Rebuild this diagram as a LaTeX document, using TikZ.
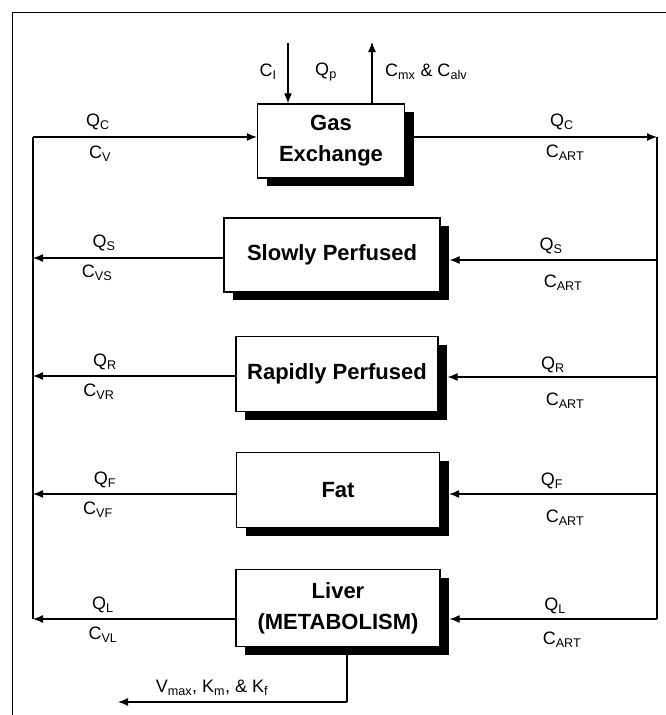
\documentclass[tikz,border=0pt]{standalone}
\usepackage{fontspec}
\setmainfont{Liberation Sans}
\usetikzlibrary{arrows.meta,shadows}

\tikzset{
  compartment/.style={rectangle, draw, line width=1.2pt, fill=white, align=center,
    font=\fontsize{22}{31}\selectfont\bfseries,
    drop shadow={shadow xshift=9pt, shadow yshift=-8pt, fill=black, opacity=1}},
  flow/.style={line width=1.2pt, -{Latex[length=10pt,width=8pt]}},
  pipe/.style={line width=1.2pt},
  lbl/.style={font=\fontsize{18}{21}\selectfont, inner sep=0pt},
}

\begin{document}
\begin{tikzpicture}[x=1pt, y=-1pt]
    \useasboundingbox (0,0) rectangle (666,715);
    % Frame
    \draw[line width=1pt] (12,715) -- (12,12) -- (666,12);

    % Compartments
    \node (gas) [compartment, minimum width=147pt, minimum height=74pt] at (331,141) {Gas\\Exchange};
    \node (slow) [compartment, minimum width=216pt, minimum height=74pt] at (332,255) {Slowly Perfused};
    \node (rapid) [compartment, minimum width=202pt, minimum height=75pt] at (337,374) {Rapidly Perfused};
    \node (fat) [compartment, minimum width=203pt, minimum height=75pt] at (338,490) {Fat};
    \node (liver) [compartment, minimum width=204pt, minimum height=77pt] at (338,608) {Liver\\(METABOLISM)};

    % Venous and arterial lines
    \coordinate (vC) at (33,137);
    \coordinate (vS) at (33,258);
    \coordinate (vR) at (33,376);
    \coordinate (vF) at (33,494);
    \coordinate (vL) at (33,619);
    \coordinate (aC) at (657,137);
    \coordinate (aS) at (657,260);
    \coordinate (aR) at (657,377);
    \coordinate (aF) at (657,494);
    \coordinate (aL) at (657,619);

    \draw[pipe] (vL) -- (vC);
    \draw[flow] (vC) -- (vC -| gas.west);
    \draw[flow] (vS -| slow.west) -- (vS);
    \draw[flow] (vR -| rapid.west) -- (vR);
    \draw[flow] (vF -| fat.west) -- (vF);
    \draw[flow] (vL -| liver.west) -- (vL);

    \draw[flow] (aC -| gas.east) ++(9,0) -- (aC);
    \draw[pipe] (aC) -- (aL);
    \draw[flow] (aS) -- ([xshift=9pt]aS -| slow.east);
    \draw[flow] (aR) -- ([xshift=9pt]aR -| rapid.east);
    \draw[flow] (aF) -- ([xshift=9pt]aF -| fat.east);
    \draw[flow] (aL) -- ([xshift=9pt]aL -| liver.east);

    % Breathing
    \coordinate (inhale) at (288,43);
    \coordinate (exhale) at (372,42);
    \draw[flow] (inhale) -- (inhale |- gas.north);
    \draw[flow] (exhale |- gas.north) -- (exhale);
    \node[lbl] at (268,72) {C\textsubscript{I}};
    \node[lbl] at (326,72) {Q\textsubscript{p}};
    \node[lbl, anchor=west] at (385,72) {C\textsubscript{mx} \& C\textsubscript{alv}};

    % Metabolism
    \coordinate (metab) at (347,702);
    \coordinate (metend) at (118,702);
    \draw[pipe] ([yshift=-8pt]metab |- liver.south) -- (metab);
    \draw[flow] (metab) -- (metend);
    \node[lbl] at (212,688) {V\textsubscript{max}, K\textsubscript{m}, \& K\textsubscript{f}};

    % Flow labels
    \node[lbl] at (98,122) {Q\textsubscript{C}};
    \node[lbl] at (100,154) {C\textsubscript{V}};
    \node[lbl] at (562,122) {Q\textsubscript{C}};
    \node[lbl] at (565,153) {C\textsubscript{ART}};
    \node[lbl] at (104,243) {Q\textsubscript{S}};
    \node[lbl] at (97,273) {C\textsubscript{VS}};
    \node[lbl] at (551,246) {Q\textsubscript{S}};
    \node[lbl] at (563,283) {C\textsubscript{ART}};
    \node[lbl] at (105,362) {Q\textsubscript{R}};
    \node[lbl] at (99,392) {C\textsubscript{VR}};
    \node[lbl] at (553,365) {Q\textsubscript{R}};
    \node[lbl] at (565,401) {C\textsubscript{ART}};
    \node[lbl] at (105,480) {Q\textsubscript{F}};
    \node[lbl] at (98,510) {C\textsubscript{VF}};
    \node[lbl] at (552,481) {Q\textsubscript{F}};
    \node[lbl] at (565,518) {C\textsubscript{ART}};
    \node[lbl] at (103,605) {Q\textsubscript{L}};
    \node[lbl] at (103,635) {C\textsubscript{VL}};
    \node[lbl] at (555,606) {Q\textsubscript{L}};
    \node[lbl] at (562,640) {C\textsubscript{ART}};
\end{tikzpicture}
\end{document}
